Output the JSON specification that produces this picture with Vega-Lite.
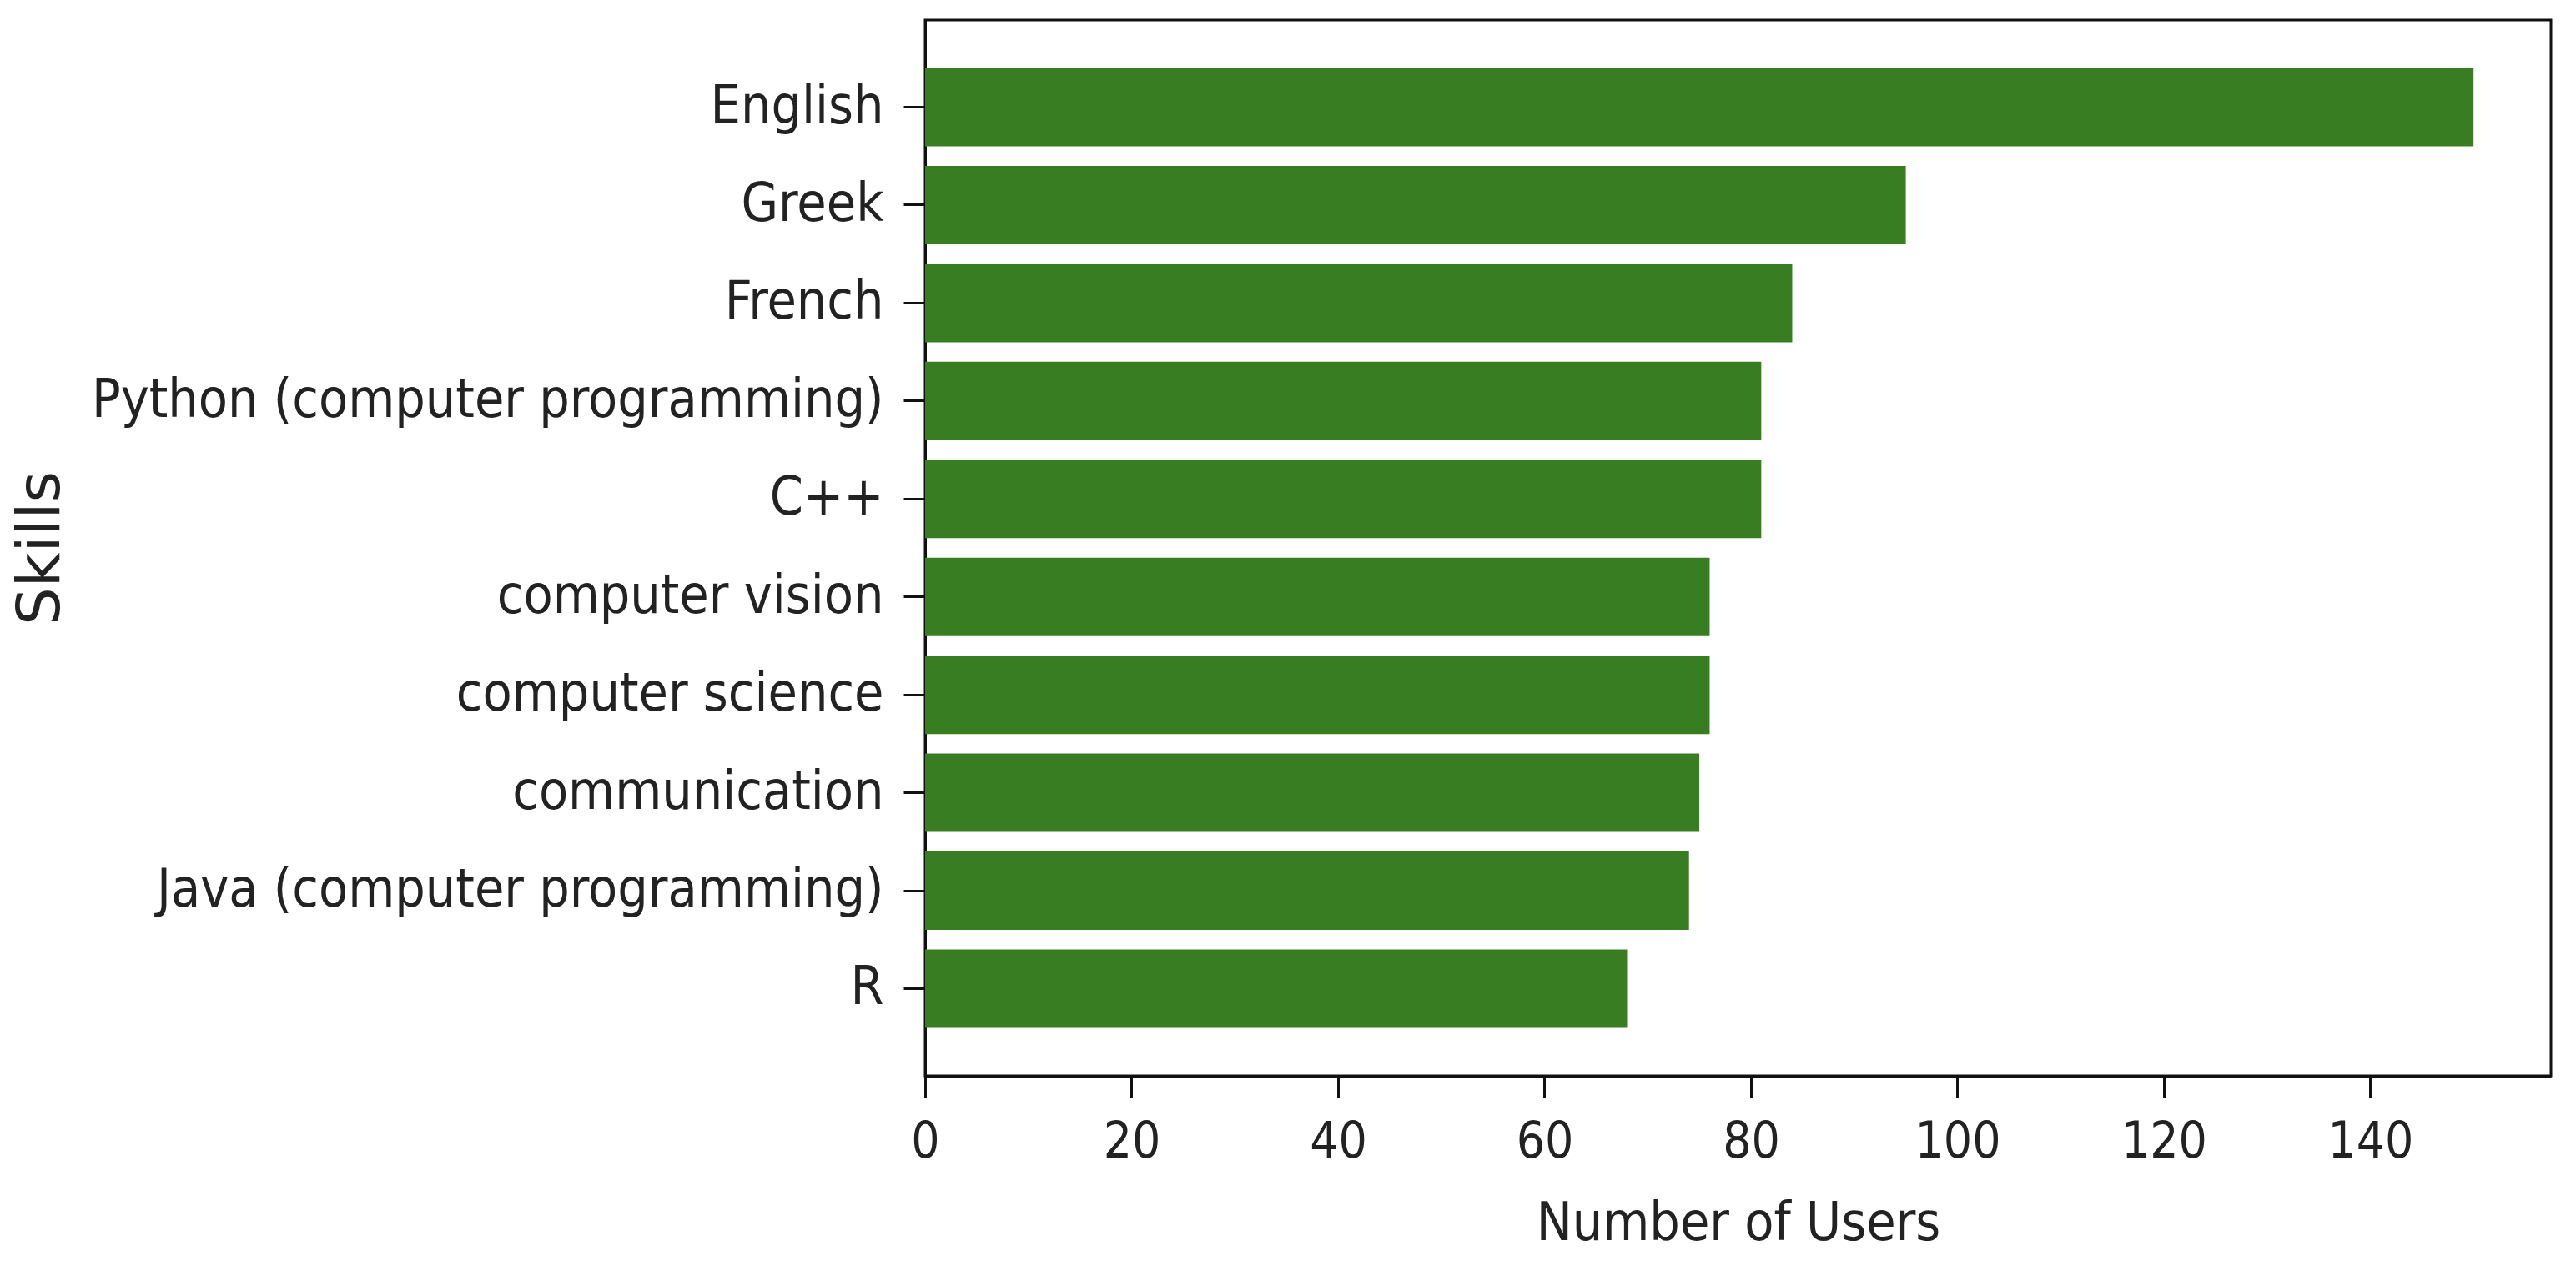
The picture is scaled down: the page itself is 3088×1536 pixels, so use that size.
{
  "$schema": "https://vega.github.io/schema/vega-lite/v6.json",
  "width": 1949,
  "height": 1266,
  "autosize": {"type": "none"},
  "padding": {"left": 1109, "top": 24, "right": 30, "bottom": 246},
  "background": "white",
  "config": {
    "view": {"stroke": "#111", "strokeWidth": 3},
    "font": "DejaVu Sans Condensed"
  },
  "data": {
    "values": [
      {"skill": "English", "users": 150},
      {"skill": "Greek", "users": 95},
      {"skill": "French", "users": 84},
      {"skill": "Python (computer programming)", "users": 81},
      {"skill": "C++", "users": 81},
      {"skill": "computer vision", "users": 76},
      {"skill": "computer science", "users": 76},
      {"skill": "communication", "users": 75},
      {"skill": "Java (computer programming)", "users": 74},
      {"skill": "R", "users": 68}
    ]
  },
  "mark": {"type": "bar", "color": "#387d22"},
  "encoding": {
    "y": {
      "field": "skill",
      "type": "nominal",
      "sort": null,
      "scale": {"paddingInner": 0.2, "paddingOuter": 0.49},
      "axis": {
        "title": "Skills",
        "titleFont": "DejaVu Sans",
        "titleFontSize": 72,
        "titleFontWeight": "normal",
        "titleColor": "#222",
        "titlePadding": 24,
        "maxExtent": 2000,
        "labelFont": "DejaVu Sans Condensed",
        "labelFontSize": 64,
        "labelColor": "#222",
        "labelPadding": 24,
        "labelLimit": 0,
        "tickSize": 26,
        "tickWidth": 3,
        "tickColor": "#111",
        "domainColor": "#111",
        "domainWidth": 3,
        "grid": false
      }
    },
    "x": {
      "field": "users",
      "type": "quantitative",
      "scale": {"domain": [0, 157.5], "nice": false, "zero": true},
      "axis": {
        "title": "Number of Users",
        "titleFont": "DejaVu Sans Condensed",
        "titleFontSize": 64,
        "titleFontWeight": "normal",
        "titleColor": "#222",
        "titlePadding": 36,
        "values": [0, 20, 40, 60, 80, 100, 120, 140],
        "labelFont": "DejaVu Sans Condensed",
        "labelFontSize": 60,
        "labelColor": "#222",
        "labelPadding": 24,
        "labelFlush": false,
        "tickSize": 26,
        "tickWidth": 3,
        "tickColor": "#111",
        "domainColor": "#111",
        "domainWidth": 3,
        "grid": false
      }
    }
  }
}
